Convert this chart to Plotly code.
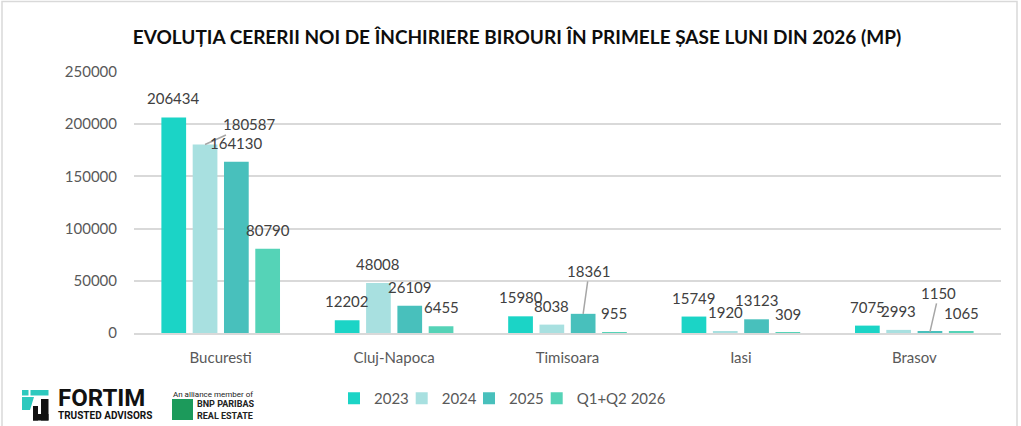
import plotly.graph_objects as go

# data
cities = ["Bucuresti", "Cluj-Napoca", "Timisoara", "Iasi", "Brasov"]
series_names = ["2023", "2024", "2025", "Q1+Q2 2026"]
values_2023 = [206434, 12202, 15980, 15749, 7075]
values_2024 = [180587, 48008, 8038, 1920, 2993]
values_2025 = [164130, 26109, 18361, 13123, 1150]
values_q1q2_2026 = [80790, 6455, 955, 309, 1065]
y_ticks = [0, 50000, 100000, 150000, 200000, 250000]

# styling
W, H = 1021, 426
M_L, M_R, M_T, M_B = 134, 20, 72, 93
colors = ["#1BD4C6", "#A8E0E0", "#48C0BC", "#55D3B7"]
FONT = "Lato"
label_color = "#404040"
axis_color = "#595959"
BARGAP = 0.278
BARGROUPGAP = 0.21

# legend text starts (px), one small legend per series
legend_text_x = [374, 441.7, 509, 576.7]

# labels that Excel pushed aside (series index, city index) -> (dx, dy) px
moved_labels = {
    (1, 0): (44, -20),
    (2, 2): (6, -43),
    (2, 4): (9, -39),
}

plot_w = W - M_L - M_R
plot_h = H - M_T - M_B


def px_x(px):
    return (px - M_L) / plot_w


def px_y(py):
    return (H - M_B - py) / plot_h


all_series = [values_2023, values_2024, values_2025, values_q1q2_2026]
legend_ids = ["legend", "legend2", "legend3", "legend4"]

fig = go.Figure()
for name, vals, col, lg in zip(series_names, all_series, colors, legend_ids):
    fig.add_trace(go.Bar(name=name, x=cities, y=vals, marker_color=col,
                         marker_line_width=0, legend=lg, showlegend=True))

# data labels, shifted to sit over each bar of the group
cat_w = plot_w / len(cities)
slot = cat_w * (1 - BARGAP) / len(series_names)
annotations = []
for s, vals in enumerate(all_series):
    xs = (s - (len(series_names) - 1) / 2) * slot
    for c, v in enumerate(vals):
        if (s, c) in moved_labels:
            dx, dy = moved_labels[(s, c)]
            annotations.append(dict(
                x=cities[c], y=v, xref="x", yref="y", xshift=xs,
                text=str(v), showarrow=True, arrowhead=0, arrowwidth=1.5,
                arrowcolor="#a6a6a6", ax=dx, ay=dy, standoff=0,
                font=dict(family=FONT, size=15, color=label_color)))
        else:
            annotations.append(dict(
                x=cities[c], y=v, xref="x", yref="y", xshift=xs, yshift=19,
                text=str(v), showarrow=False,
                font=dict(family=FONT, size=15, color=label_color)))

# logo texts
annotations += [
    dict(x=px_x(56), y=px_y(423), xref="paper", yref="paper", xanchor="left",
         yanchor="bottom", align="left", showarrow=False,
         text="<b><span style='font-size:24px'>FORTIM</span><br>TRUSTED ADVISORS</b>",
         font=dict(family="Roboto", size=10, color="#111111")),
    dict(x=px_x(171), y=px_y(394), xref="paper", yref="paper", xanchor="left",
         yanchor="middle", text="An alliance member of", showarrow=False,
         font=dict(family="Roboto", size=8, color="#222222")),
    dict(x=px_x(195), y=px_y(409.5), xref="paper", yref="paper", xanchor="left",
         yanchor="middle", align="left", showarrow=False,
         text="<b>BNP PARIBAS<br>REAL ESTATE</b>",
         font=dict(family="Roboto", size=9, color="#222222")),
]


def rect(x0, y0, x1, y1, fill, line=None):
    return dict(type="rect", xref="paper", yref="paper",
                x0=px_x(x0), x1=px_x(x1), y0=px_y(y1), y1=px_y(y0),
                fillcolor=fill, line=dict(width=0) if line is None else line,
                layer="above")


def poly(points, fill):
    path = "M " + " L ".join(f"{px_x(a)},{px_y(b)}" for a, b in points) + " Z"
    return dict(type="path", xref="paper", yref="paper", path=path,
                fillcolor=fill, line=dict(width=0), layer="above")


teal = "#2CC9BE"
shapes = [
    # outer chart border
    dict(type="rect", xref="paper", yref="paper", x0=px_x(2), x1=px_x(1017),
         y0=px_y(440), y1=px_y(1.5), line=dict(color="#d9d9d9", width=1.5),
         fillcolor="rgba(0,0,0,0)", layer="below"),
    # fortim icon
    rect(22, 390, 28.5, 395.5, teal),
    rect(30.5, 390, 48.5, 395.5, teal),
    poly([(22, 397), (34, 397), (30, 410), (22, 410)], teal),
    rect(41, 399, 48.5, 420.5, "#111111"),
    rect(33, 414, 48.5, 420.5, "#111111"),
    rect(33, 406, 38, 420.5, "#111111"),
    # bnp square
    rect(172, 399, 193, 420, "#1C9A5B"),
]

legend_style = dict(orientation="h", xref="container", yref="container",
                    xanchor="left", y=1 - 398.5 / H, yanchor="middle",
                    font=dict(family=FONT, size=15, color=axis_color),
                    itemwidth=30, bgcolor="rgba(0,0,0,0)")
legends = {lg: dict(x=(tx - 40) / W, **legend_style)
           for lg, tx in zip(legend_ids, legend_text_x)}

fig.update_layout(
    width=W, height=H,
    margin=dict(l=M_L, r=M_R, t=M_T, b=M_B),
    paper_bgcolor="white", plot_bgcolor="white",
    showlegend=True,
    barmode="group", bargap=BARGAP, bargroupgap=BARGROUPGAP,
    title=dict(text="<b>EVOLUȚIA CERERII NOI DE ÎNCHIRIERE BIROURI ÎN PRIMELE ȘASE LUNI DIN 2026 (MP)</b>",
               x=517 / W, xanchor="center", xref="container",
               y=1 - 37 / H, yanchor="middle", yref="container",
               font=dict(family=FONT, size=19, color="#0d0d0d")),
    font=dict(family=FONT, size=15, color=axis_color),
    xaxis=dict(showgrid=False, showline=True, linecolor="#d9d9d9",
               linewidth=2, ticks="", ticklabelstandoff=10,
               tickfont=dict(family=FONT, size=15, color=axis_color)),
    yaxis=dict(range=[0, 250000], tickvals=y_ticks,
               ticktext=[str(t) for t in y_ticks],
               showgrid=True, gridcolor="#d9d9d9", gridwidth=1.5,
               zeroline=False, showline=False, ticks="",
               ticklabelstandoff=16,
               tickfont=dict(family=FONT, size=15, color=axis_color)),
    annotations=annotations,
    shapes=shapes,
    **legends,
)

fig.write_html("out.html", config={"displayModeBar": False},
               post_script="document.body.style.margin='0';")
